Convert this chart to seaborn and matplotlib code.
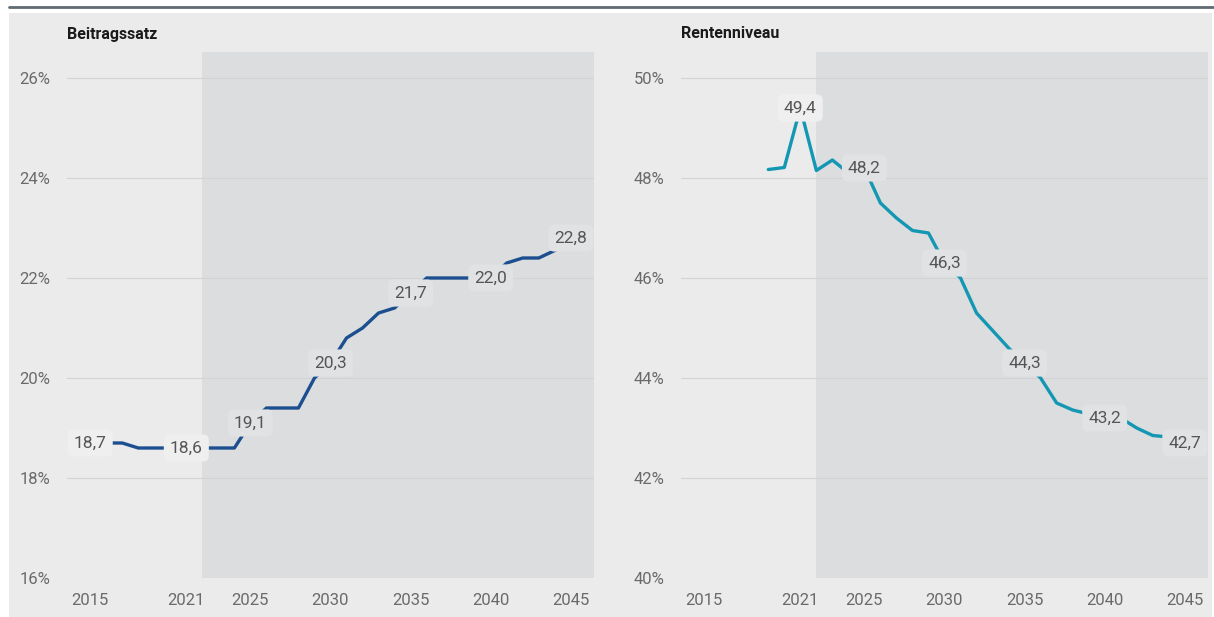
import pandas as pd
import matplotlib
matplotlib.use("Agg")
import matplotlib.pyplot as plt
from matplotlib.patches import Rectangle
from matplotlib.lines import Line2D
import seaborn as sns

# data
jahre_beitrag = list(range(2015, 2046))
beitragssatz = [18.7, 18.7, 18.7, 18.6, 18.6, 18.6, 18.6, 18.6, 18.6, 18.6,
                19.1, 19.4, 19.4, 19.4, 20.0, 20.3, 20.8, 21.0, 21.3, 21.4,
                21.7, 22.0, 22.0, 22.0, 22.0, 22.0, 22.3, 22.4, 22.4, 22.55, 22.8]

jahre_rente = list(range(2019, 2046))
rentenniveau = [48.17, 48.21, 49.4, 48.15, 48.36, 48.1, 48.2, 47.5, 47.2, 46.95,
                46.9, 46.3, 46.0, 45.3, 44.95, 44.6, 44.3, 44.0, 43.5, 43.36,
                43.28, 43.2, 43.2, 43.0, 42.85, 42.82, 42.7]

label_jahre_beitrag = [2015, 2021, 2025, 2030, 2035, 2040, 2045]
label_jahre_rente = [2021, 2025, 2030, 2035, 2040, 2045]

x_ticks = [2015, 2021, 2025, 2030, 2035, 2040, 2045]
prognose_start = 2022

df_b = pd.DataFrame({"Jahr": jahre_beitrag, "Wert": beitragssatz})
df_r = pd.DataFrame({"Jahr": jahre_rente, "Wert": rentenniveau})

sns.set_style("white")
plt.rcParams['font.family'] = ['Roboto', 'DejaVu Sans']

panel_bg = '#ebebeb'
shade = '#dcdddf'
grid_c = '#d3d3d3'
tick_c = '#6a6a6a'
label_c = '#555555'

W, H = 1214, 617
fig = plt.figure(figsize=(W / 100, H / 100), dpi=100)
fig.patch.set_facecolor('white')

# gray panel + dark top rule
fig.patches.append(Rectangle((9 / W, 0), 1203 / W, (H - 13) / H, transform=fig.transFigure,
                             facecolor=panel_bg, edgecolor='none', zorder=-10))
fig.lines.append(Line2D([9 / W, 1.0], [1 - 6.5 / H, 1 - 6.5 / H], transform=fig.transFigure,
                        color='#5f6a72', linewidth=2.0, zorder=-10))

ax_bottom = 1 - 578 / H
ax_h = (578 - 52) / H
ax1 = fig.add_axes([67 / W, ax_bottom, 527 / W, ax_h])
ax2 = fig.add_axes([681 / W, ax_bottom, 527 / W, ax_h])

panels = [
    (ax1, df_b, '#1c4f8f', 'Beitragssatz', 16, [16, 18, 20, 22, 24, 26], label_jahre_beitrag),
    (ax2, df_r, '#1497b3', 'Rentenniveau', 40, [40, 42, 44, 46, 48, 50], label_jahre_rente),
]

for ax, df, col, title, ymin, yticks, lab_years in panels:
    ax.set_facecolor(panel_bg)
    ax.set_xlim(2013.55, 2046.45)
    ax.set_ylim(ymin, ymin + 10.52)
    ax.axvspan(prognose_start, 2046.45, color=shade, zorder=0.2, linewidth=0)

    sns.lineplot(data=df, x="Jahr", y="Wert", ax=ax, color=col, linewidth=2.4, zorder=2)

    for yr in lab_years:
        v = df.loc[df["Jahr"] == yr, "Wert"].iloc[0]
        box_c = '#e1e2e4' if yr >= prognose_start else '#efefef'
        ax.text(yr, v, f"{v:.1f}".replace('.', ','), ha='center', va='center',
                fontsize=12.5, color=label_c, zorder=3,
                bbox=dict(boxstyle='round,pad=0.35', facecolor=box_c,
                          edgecolor='none'))

    ax.set_yticks(yticks)
    ax.set_yticklabels([f"{t}%" for t in yticks])
    ax.set_xticks(x_ticks)
    ax.set_xticklabels([str(t) for t in x_ticks])
    ax.yaxis.grid(True, color=grid_c, linewidth=0.8)
    ax.set_axisbelow(True)
    ax.tick_params(axis='y', length=0, pad=12, labelsize=12, labelcolor=tick_c)
    ax.tick_params(axis='x', length=4, width=0.8, color='#c6c6c6', pad=7,
                   labelsize=12, labelcolor=tick_c)
    ax.set_xlabel("")
    ax.set_ylabel("")
    for s in ax.spines.values():
        s.set_visible(False)

    x0 = ax.get_position().x0
    fig.text(x0, 1 - 34 / H, title, ha='left', va='center', fontsize=11.5,
             fontweight='bold', color='#1a1a1a')

fig.savefig("out.png", dpi=100, facecolor=fig.get_facecolor())
